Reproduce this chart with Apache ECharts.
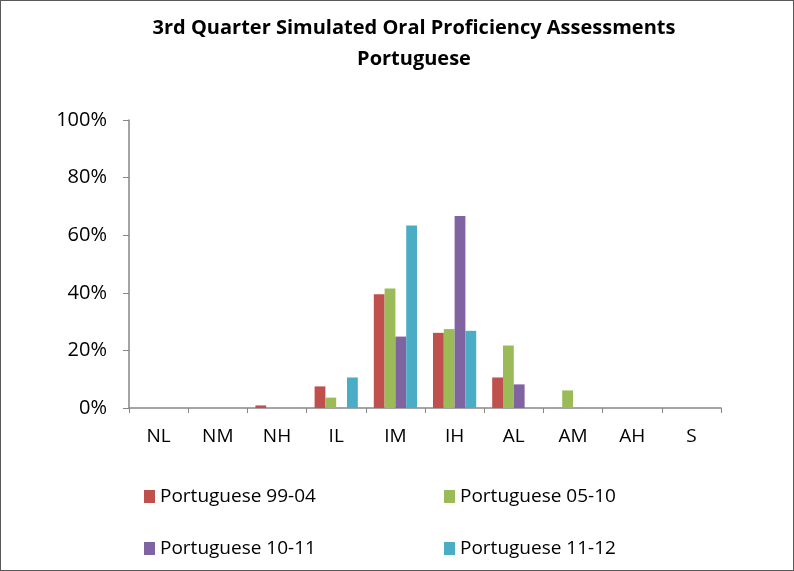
<!DOCTYPE html>
<html>
<head>
<meta charset="utf-8">
<script src="https://cdn.jsdelivr.net/npm/echarts@6/dist/echarts.min.js"></script>
<style>
  html, body { margin: 0; padding: 0; background: #fff; }
  #chart { width: 794px; height: 571px; box-sizing: border-box; border: 1px solid #595959; }
</style>
</head>
<body>
<div id="chart"></div>
<script>
// proficiency levels along the x axis
var levels = ["NL", "NM", "NH", "IL", "IM", "IH", "AL", "AM", "AH", "S"];

// percent of students per level
var seriesNames = ["Portuguese 99-04", "Portuguese 05-10", "Portuguese 10-11", "Portuguese 11-12"];
var p9904 = [0, 0, 0.9, 7.5, 39.5, 26.1, 10.6, 0, 0, 0];
var p0510 = [0, 0, 0, 3.6, 41.5, 27.4, 21.7, 6.1, 0, 0];
var p1011 = [0, 0, 0, 0, 24.8, 66.7, 8.2, 0, 0, 0];
var p1112 = [0, 0, 0, 10.6, 63.4, 26.8, 0, 0, 0, 0];

var colors = ["#C0504D", "#9BBB59", "#8064A2", "#4BACC6"];
var font = "'Open Sans', Lato, sans-serif";

var chart = echarts.init(document.getElementById("chart"));

function bar(name, data, color) {
  return {
    name: name,
    type: "bar",
    data: data,
    barGap: "0%",
    barCategoryGap: "27%",
    itemStyle: { color: color },
    animation: false
  };
}

// one legend per entry so each sits where it does in the picture
function legendAt(name, left, top) {
  return {
    data: [name],
    left: left,
    top: top,
    itemWidth: 11,
    itemHeight: 13,
    icon: "rect",
    itemGap: 5,
    textStyle: { fontFamily: font, fontSize: 19, color: "#000" }
  };
}

var option = {
  title: {
    text: "3rd Quarter Simulated Oral Proficiency Assessments\nPortuguese",
    left: 408,
    textAlign: "center",
    top: 7,
    textStyle: { fontFamily: font, fontSize: 20, fontWeight: "bold", color: "#000", lineHeight: 31 }
  },
  legend: [
    legendAt(seriesNames[0], 138, 481),
    legendAt(seriesNames[1], 438, 481),
    legendAt(seriesNames[2], 138, 533),
    legendAt(seriesNames[3], 438, 533)
  ],
  grid: { left: 128, right: 72, top: 119, bottom: 162 },
  xAxis: {
    type: "category",
    data: levels,
    axisLine: { lineStyle: { color: "#868686", width: 1.5 } },
    axisTick: { show: true, length: 5, lineStyle: { color: "#868686" } },
    axisLabel: { fontFamily: font, fontSize: 19, color: "#000", margin: 19 }
  },
  yAxis: {
    type: "value",
    min: 0,
    max: 100,
    interval: 20,
    axisLine: { show: true, lineStyle: { color: "#868686", width: 1.5 } },
    axisTick: { show: true, length: 6, lineStyle: { color: "#868686" } },
    splitLine: { show: false },
    axisLabel: { fontFamily: font, fontSize: 20, color: "#000", margin: 22, formatter: "{value}%" }
  },
  series: [
    bar(seriesNames[0], p9904, colors[0]),
    bar(seriesNames[1], p0510, colors[1]),
    bar(seriesNames[2], p1011, colors[2]),
    bar(seriesNames[3], p1112, colors[3])
  ]
};

chart.setOption(option);
</script>
</body>
</html>
